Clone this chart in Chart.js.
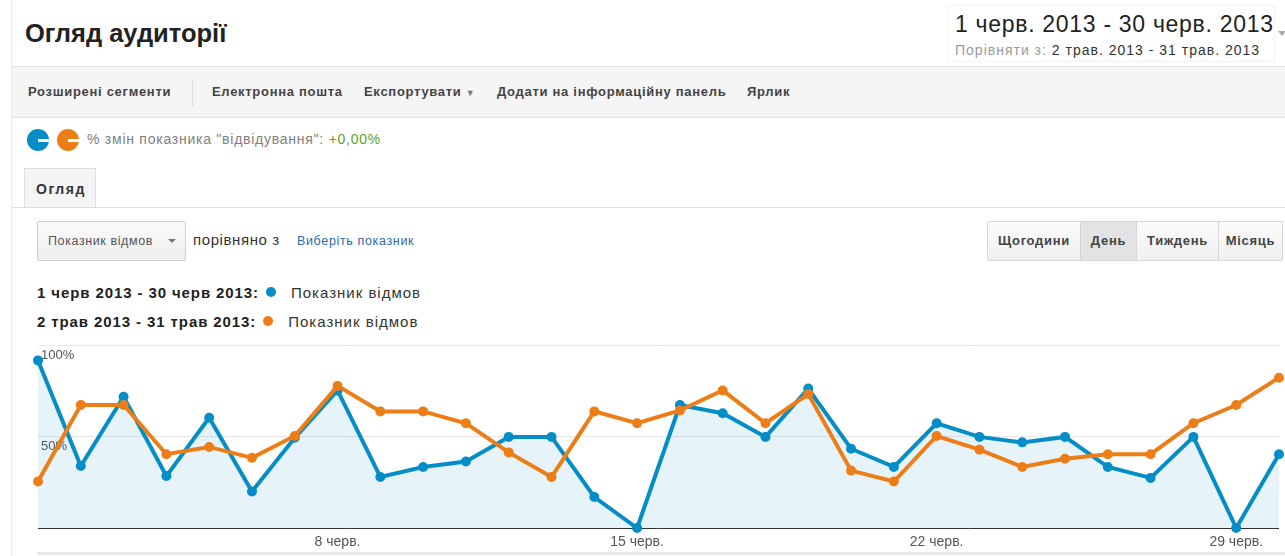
<!DOCTYPE html>
<html>
<head>
<meta charset="utf-8">
<script src="https://cdn.jsdelivr.net/npm/chart.js@4.4.0/dist/chart.umd.min.js"></script>
<style>
  html,body{margin:0;padding:0;background:#fff;width:1285px;height:556px;overflow:hidden;font-family:Arial,"Liberation Sans",sans-serif;}
  .abs{position:absolute;white-space:nowrap;}
  #leftline{left:11px;top:0;width:1px;height:556px;background:#ececec;}
  #title{left:25px;top:19px;font-size:25.5px;font-weight:bold;color:#222;}
  #datebox{left:948px;top:5px;width:327px;height:57px;background:#fff;border:1px solid #f3f3f3;box-sizing:border-box;}
  #d1{left:955px;top:11px;font-size:23px;letter-spacing:0.7px;color:#222;}
  #d2{left:955px;top:42px;font-size:14px;letter-spacing:1px;color:#999;}
  #d2 span{color:#333;}
  #tri{left:1278px;top:31px;width:0;height:0;border-left:4px solid transparent;border-right:4px solid transparent;border-top:5px solid #aaa;}
  #toolbar{left:12px;top:66px;width:1273px;height:52px;background:#f5f5f5;border-top:1px solid #e6e6e6;border-bottom:1px solid #e2e2e2;box-sizing:border-box;}
  .tb{top:84px;font-size:13px;letter-spacing:0.7px;font-weight:bold;color:#444;}
  #sep{left:192px;top:80px;width:1px;height:26px;background:#ddd;}
  .ic{top:129px;width:22px;height:22px;border-radius:50%;}
  .ic::after{content:"";position:absolute;left:11px;top:10px;width:11px;height:2.5px;background:#fff;}
  #chg{left:87px;top:131px;font-size:14px;letter-spacing:0.75px;color:#808080;}
  #chg span{color:#5b9f2f;}
  #tab{left:24px;top:168px;width:72px;height:40px;background:#f4f4f4;border:1px solid #ddd;border-bottom:none;box-sizing:border-box;}
  #tabt{left:36px;top:181px;font-size:14px;letter-spacing:1.5px;font-weight:bold;color:#333;}
  #tabline{left:12px;top:207px;width:1273px;height:1px;background:#ddd;}
  #dd{left:37px;top:221px;width:149px;height:40px;border:1px solid #d0d0d0;border-radius:2px;background:linear-gradient(#fafafa,#eeeeee);box-sizing:border-box;}
  #ddt{left:48px;top:234px;font-size:12.5px;letter-spacing:0.6px;color:#555;}
  #ddtri{left:168px;top:239px;width:0;height:0;border-left:4px solid transparent;border-right:4px solid transparent;border-top:4px solid #777;}
  #cmp{left:193px;top:231px;font-size:15px;letter-spacing:0.6px;color:#333;}
  #pick{left:297px;top:234px;font-size:12.5px;letter-spacing:0.65px;color:#3366aa;}
  #btns{left:987px;top:221px;height:40px;display:flex;border:1px solid #d6d6d6;border-radius:2px;box-sizing:border-box;}
  #btns div{height:38px;line-height:38px;font-size:13px;letter-spacing:0.7px;font-weight:bold;color:#444;text-align:center;background:linear-gradient(#fbfbfb,#f0f0f0);border-left:1px solid #d6d6d6;box-sizing:border-box;}
  #btns div:first-child{border-left:none;}
  #btns div.act{background:#e3e3e3;}
  .lg{font-size:15px;color:#333;letter-spacing:1px;}
  .lg b{color:#222;letter-spacing:0.9px;}
  .dot{display:inline-block;width:10px;height:10px;border-radius:50%;margin:0 15px 0 7px;vertical-align:1px;}
  #bottomline{left:37px;top:552px;width:1248px;height:3px;background:#e9e9e9;}
  #chartwrap{position:absolute;left:0;top:335px;width:1285px;height:221px;}
</style>
</head>
<body>
<div class="abs" id="leftline"></div>
<div class="abs" id="title">Огляд аудиторії</div>
<div class="abs" id="datebox"></div>
<div class="abs" id="d1">1 черв. 2013 - 30 черв. 2013</div>
<div class="abs" id="d2">Порівняти з: <span>2 трав. 2013 - 31 трав. 2013</span></div>
<div class="abs" id="tri"></div>

<div class="abs" id="toolbar"></div>
<div class="abs tb" style="left:28px">Розширені сегменти</div>
<div class="abs" id="sep"></div>
<div class="abs tb" style="left:212px">Електронна пошта</div>
<div class="abs tb" style="left:364px">Експортувати <span style="font-size:9px;color:#777">&#9660;</span></div>
<div class="abs tb" style="left:497px">Додати на інформаційну панель</div>
<div class="abs tb" style="left:747px">Ярлик</div>

<div class="abs ic" style="left:27px;background:#058dc7"></div>
<div class="abs ic" style="left:57px;background:#ed7e17"></div>
<div class="abs" id="chg">% змін показника "відвідування": <span>+0,00%</span></div>

<div class="abs" id="tab"></div>
<div class="abs" id="tabt">Огляд</div>
<div class="abs" id="tabline"></div>

<div class="abs" id="dd"></div>
<div class="abs" id="ddt">Показник відмов</div>
<div class="abs" id="ddtri"></div>
<div class="abs" id="cmp">порівняно з</div>
<div class="abs" id="pick">Виберіть показник</div>

<div class="abs" id="btns">
  <div style="width:92px">Щогодини</div>
  <div class="act" style="width:56px">День</div>
  <div style="width:82px">Тиждень</div>
  <div style="width:64px">Місяць</div>
</div>

<div class="abs lg" id="lg1" style="left:37px;top:284px"></div>
<div class="abs lg" id="lg2" style="left:37px;top:313px"></div>

<div class="abs" id="bottomline"></div>
<div id="chartwrap"><canvas id="c"></canvas></div>

<script>
// ---- data ----
const categories = ['1','2','3','4','5','6','7','8','9','10','11','12','13','14','15','16','17','18','19','20','21','22','23','24','25','26','27','28','29','30'];
const xTickLabels = {'8':'8 черв.','15':'15 черв.','22':'22 черв.','29':'29 черв.'};
const juneRange = '1 черв 2013 - 30 черв 2013:';
const mayRange = '2 трав 2013 - 31 трав 2013:';
const seriesName = 'Показник відмов';
const juneBounce = [92, 34, 72, 28.5, 60.5, 20, 49.5, 75.5, 28, 33.5, 36.5, 50, 50, 17, 0, 67.5, 63, 50, 76.5, 43.5, 33.5, 57.5, 50, 47, 50, 33.5, 27.5, 50, 0, 40.5];
const mayBounce  = [25.5, 67.5, 67.5, 40.5, 44.5, 38.5, 50.5, 78, 64, 64, 57.5, 41.5, 28, 64, 57.5, 64.5, 75.5, 57.5, 73.5, 31.5, 25.5, 50.5, 43, 33.5, 38, 40.5, 40.5, 57.5, 67.5, 82.5];
const yTickValues = [0, 50, 100];
const yTickLabels = ['', '50%', '100%'];

const blue = '#058dc7', orange = '#ed7e17';

document.getElementById('lg1').innerHTML = '<b>' + juneRange + '</b><span class="dot" style="background:'+blue+'"></span>' + seriesName;
document.getElementById('lg2').innerHTML = '<b>' + mayRange + '</b><span class="dot" style="background:'+orange+'"></span>' + seriesName;

new Chart(document.getElementById('c'), {
  type: 'line',
  data: {
    labels: categories,
    datasets: [
      {
        label: juneRange + ' ' + seriesName,
        data: juneBounce,
        borderColor: blue,
        backgroundColor: 'rgba(5,141,199,0.1)',
        pointBackgroundColor: blue,
        pointBorderColor: blue,
        borderWidth: 4,
        pointRadius: 4,
        pointBorderWidth: 2,
        fill: 'origin',
        tension: 0,
        order: 2
      },
      {
        label: mayRange + ' ' + seriesName,
        data: mayBounce,
        borderColor: orange,
        pointBackgroundColor: orange,
        pointBorderColor: orange,
        borderWidth: 4,
        pointRadius: 4,
        pointBorderWidth: 2,
        fill: false,
        tension: 0,
        order: 1
      }
    ]
  },
  options: {
    responsive: true,
    maintainAspectRatio: false,
    animation: false,
    clip: 8,
    layout: { padding: { left: 38, right: 4, top: 10, bottom: 3 } },
    plugins: { legend: { display: false }, tooltip: { enabled: false } },
    scales: {
      x: {
        offset: false,
        grid: { display: false, drawTicks: false },
        border: { display: false },
        afterFit: (a) => { a.height = 25; },
        ticks: {
          autoSkip: false, maxRotation: 0, padding: 6,
          color: '#555', font: { family: 'Arial', size: 14 },
          callback: function(v, i) { const c = categories[i]; return xTickLabels[c] || ''; }
        }
      },
      y: {
        min: 0, max: 100,
        afterFit: (a) => { a.width = 0; },
        afterBuildTicks: (a) => { a.ticks = yTickValues.map(v => ({ value: v })); },
        border: { display: false },
        grid: {
          drawTicks: false,
          lineWidth: 1,
          color: (ctx) => ctx.tick && ctx.tick.value === 0 ? '#333' : '#e8e8e8'
        },
        ticks: {
          mirror: true, padding: 3, labelOffset: 10,
          color: '#555', font: { family: 'Arial', size: 13 },
          callback: (v) => yTickLabels[yTickValues.indexOf(v)]
        }
      }
    }
  }
});
</script>
</body>
</html>
